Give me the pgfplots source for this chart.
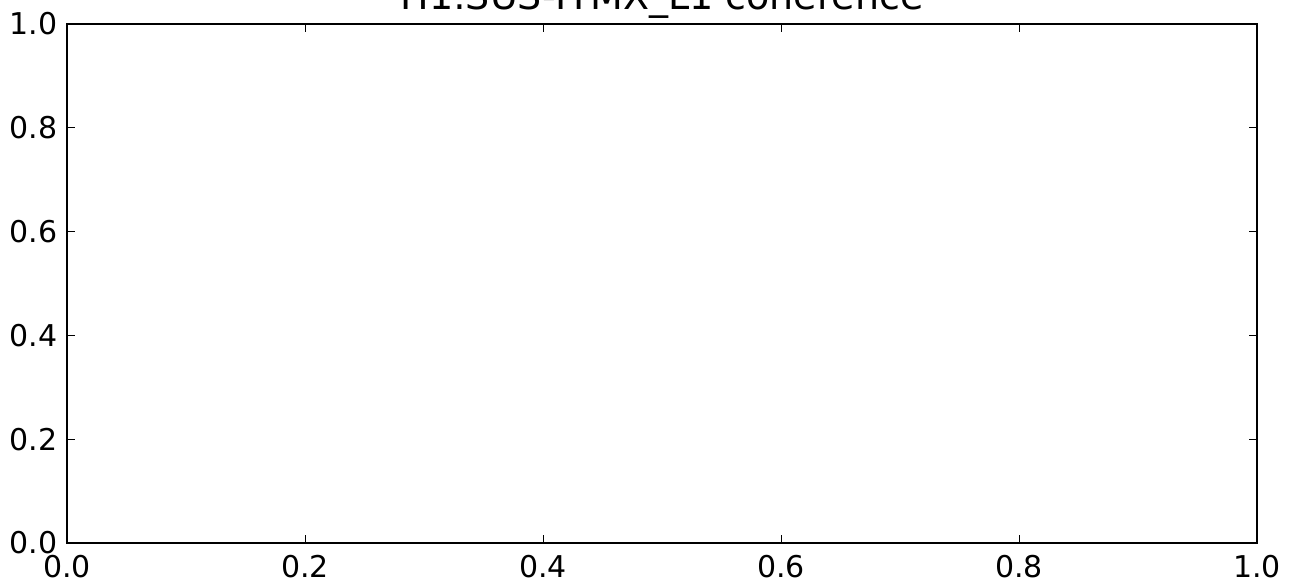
\documentclass[border=0pt]{standalone}
\usepackage{fontspec}
\setmainfont{DejaVu Sans}
\usepackage{pgfplots}
\pgfplotsset{compat=1.18}
\begin{document}
\begin{tikzpicture}
\begin{axis}[
  at={(0,0)}, anchor=south west,
  scale only axis, width=595pt, height=259.5pt,
  xmin=0, xmax=1, ymin=0, ymax=1,
  xtick={0,0.2,0.4,0.6,0.8,1.0},
  ytick={0,0.2,0.4,0.6,0.8,1.0},
  /pgf/number format/assume math mode=true,
  /pgf/number format/fixed, /pgf/number format/fixed zerofill, /pgf/number format/precision=1,
  tick align=inside, tick pos=both,
  major tick length=4pt,
  tick style={line width=0.5pt, black},
  axis line style={line width=1pt},
  ticklabel style={font=\fontsize{15}{15}\selectfont, inner sep=0pt},
  xticklabel style={anchor=north, yshift=-6pt},
  yticklabel style={anchor=east, xshift=-4.5pt},
  title={H1:SUS-ITMX\_L1 coherence},
  every axis title/.style={at={(0.5,1)}, anchor=base, yshift=7pt, inner sep=0pt, font=\fontsize{19}{19}\selectfont},
]
\addplot[draw=none] coordinates {(0,0) (1,1)};
\end{axis}
\pgfresetboundingbox
\useasboundingbox (-33.5pt,-22pt) rectangle (611.5pt,271.5pt);
\end{tikzpicture}
\end{document}
